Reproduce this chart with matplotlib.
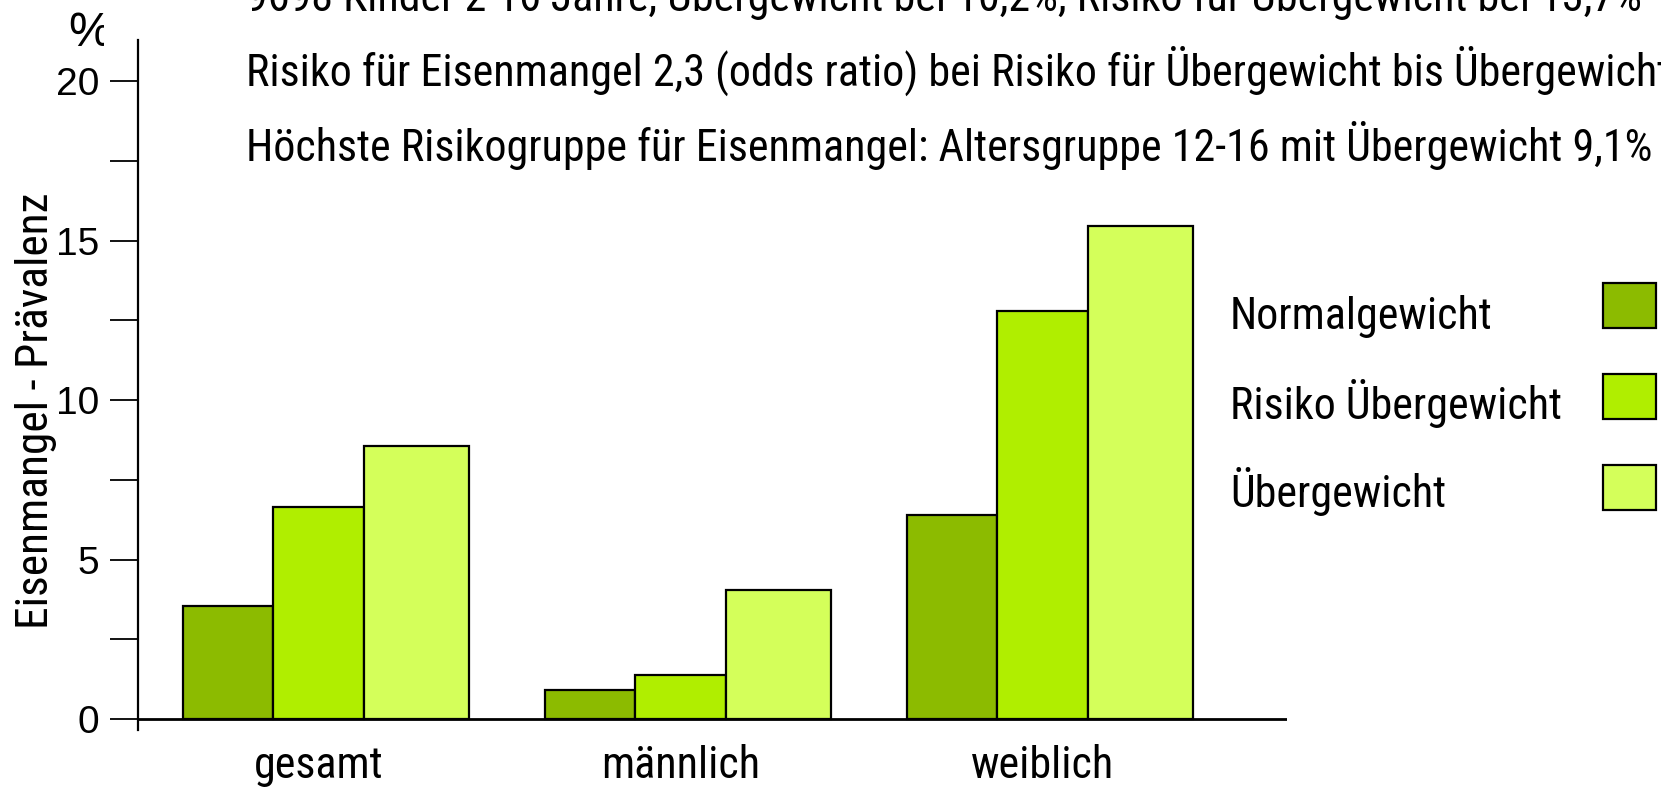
import matplotlib
matplotlib.use("Agg")
import matplotlib.pyplot as plt
from matplotlib.patches import Rectangle
from matplotlib.transforms import Bbox
from matplotlib import font_manager as fm
import numpy as np

categories = ["gesamt", "männlich", "weiblich"]
series_names = ["Normalgewicht", "Risiko Übergewicht", "Übergewicht"]
normal = [3.55, 0.92, 6.4]
risiko = [6.65, 1.38, 12.8]
ueber = [8.55, 4.05, 15.45]
series_values = [normal, risiko, ueber]
colors = ["#8CBB00", "#B0EE00", "#D4FF5A"]
yticks_major = [0, 5, 10, 15, 20]
yticks_minor = [2.5, 7.5, 12.5, 17.5]
info_lines = [
    "9698 Kinder 2-16 Jahre, Übergewicht bei 10,2%, Risiko für Übergewicht bei 13,7%",
    "Risiko für Eisenmangel 2,3 (odds ratio) bei Risiko für Übergewicht bis Übergewicht",
    "Höchste Risikogruppe für Eisenmangel: Altersgruppe 12-16 mit Übergewicht 9,1%",
]

# find a narrow / condensed sans font if present
def find_narrow():
    prefs = ["Liberation Sans Narrow", "Roboto Condensed", "Open Sans Condensed",
             "DejaVu Sans Condensed"]
    fl = fm.fontManager.ttflist
    for p in prefs:
        for f in fl:
            if f.name == p and f.weight in (400, "normal", "regular") and f.style == "normal":
                return fm.FontProperties(fname=f.fname)
    for f in fl:
        fn = f.fname.lower()
        if ("condensed" in fn or "narrow" in fn) and "bold" not in fn and "oblique" not in fn \
                and "italic" not in fn and "sans" in fn and "mono" not in fn and "serif" not in fn.replace("sans", ""):
            return fm.FontProperties(fname=f.fname)
    return None

NARROW_FP = find_narrow()
narrow_scale = 1.0 if NARROW_FP is not None else 0.86

def nfont(size):
    if NARROW_FP is not None:
        fp = NARROW_FP.copy()
        fp.set_size(size)
        return fp
    return fm.FontProperties(family=["Liberation Sans", "DejaVu Sans"], size=size * narrow_scale)

REG = ["Liberation Sans", "DejaVu Sans"]

W, H = 1661, 787
fig = plt.figure(figsize=(W / 100, H / 100), dpi=100)
fig.patch.set_facecolor("white")

def fx(px):
    return px / W

def fy(py):
    return 1 - py / H

ax = fig.add_axes([fx(138), fy(730), fx(1287 - 138), (730 - 40) / H])
ax.set_xlim(-0.124, 3.05)
ax.set_ylim(-0.345, 21.29)

widths = [0.25, 0.25, 0.29]
offsets = [0.0, 0.25, 0.5]
x = np.arange(len(categories), dtype=float)
for vals, w, off, c in zip(series_values, widths, offsets, colors):
    ax.bar(x + off, vals, width=w, align="edge", color=c, edgecolor="black",
           linewidth=1.6, zorder=2)

ax.axhline(0, color="black", linewidth=2, zorder=3)

for s in ["top", "right", "bottom"]:
    ax.spines[s].set_visible(False)
ax.spines["left"].set_linewidth(1.6)

ax.set_yticks(yticks_major)
ax.set_yticks(yticks_minor, minor=True)
ax.set_yticklabels([str(v) for v in yticks_major])
for lab in ax.get_yticklabels():
    lab.set_fontproperties(fm.FontProperties(family=REG, size=28))
ax.tick_params(axis="y", which="both", length=20, width=1.3, direction="out", pad=8)

ax.set_xticks(x + 0.375)
ax.set_xticklabels(categories)
for lab in ax.get_xticklabels():
    lab.set_fontproperties(nfont(31.7))
ax.tick_params(axis="x", length=0, pad=11)

fig.text(fx(36), fy(411), "Eisenmangel - Prävalenz", fontproperties=nfont(32.7),
         rotation=90, va="center", ha="center")

# percent sign, clipped on the right
t = fig.text(fx(68), fy(33), "%", fontproperties=fm.FontProperties(family=REG, size=35),
             va="center", ha="left")
t.set_clip_box(Bbox.from_extents(0, 0, 104, H))
t.set_clip_on(True)

# info lines at top
for i, line in enumerate(info_lines):
    fig.text(fx(246), fy(-4 + 75 * i), line, fontproperties=nfont(31.7),
             va="center", ha="left")

# legend on the right
leg_text_y = [316, 404, 491]
leg_box_y = [283, 374, 465]
for name, c, ty, by in zip(series_names, colors, leg_text_y, leg_box_y):
    fig.text(fx(1230), fy(ty), name, fontproperties=nfont(31.7), va="center", ha="left")
    fig.patches.append(Rectangle((fx(1603), fy(by + 45)), fx(53), 45 / H,
                                 transform=fig.transFigure, facecolor=c,
                                 edgecolor="black", linewidth=1.6))

fig.savefig("out.png", dpi=100)
